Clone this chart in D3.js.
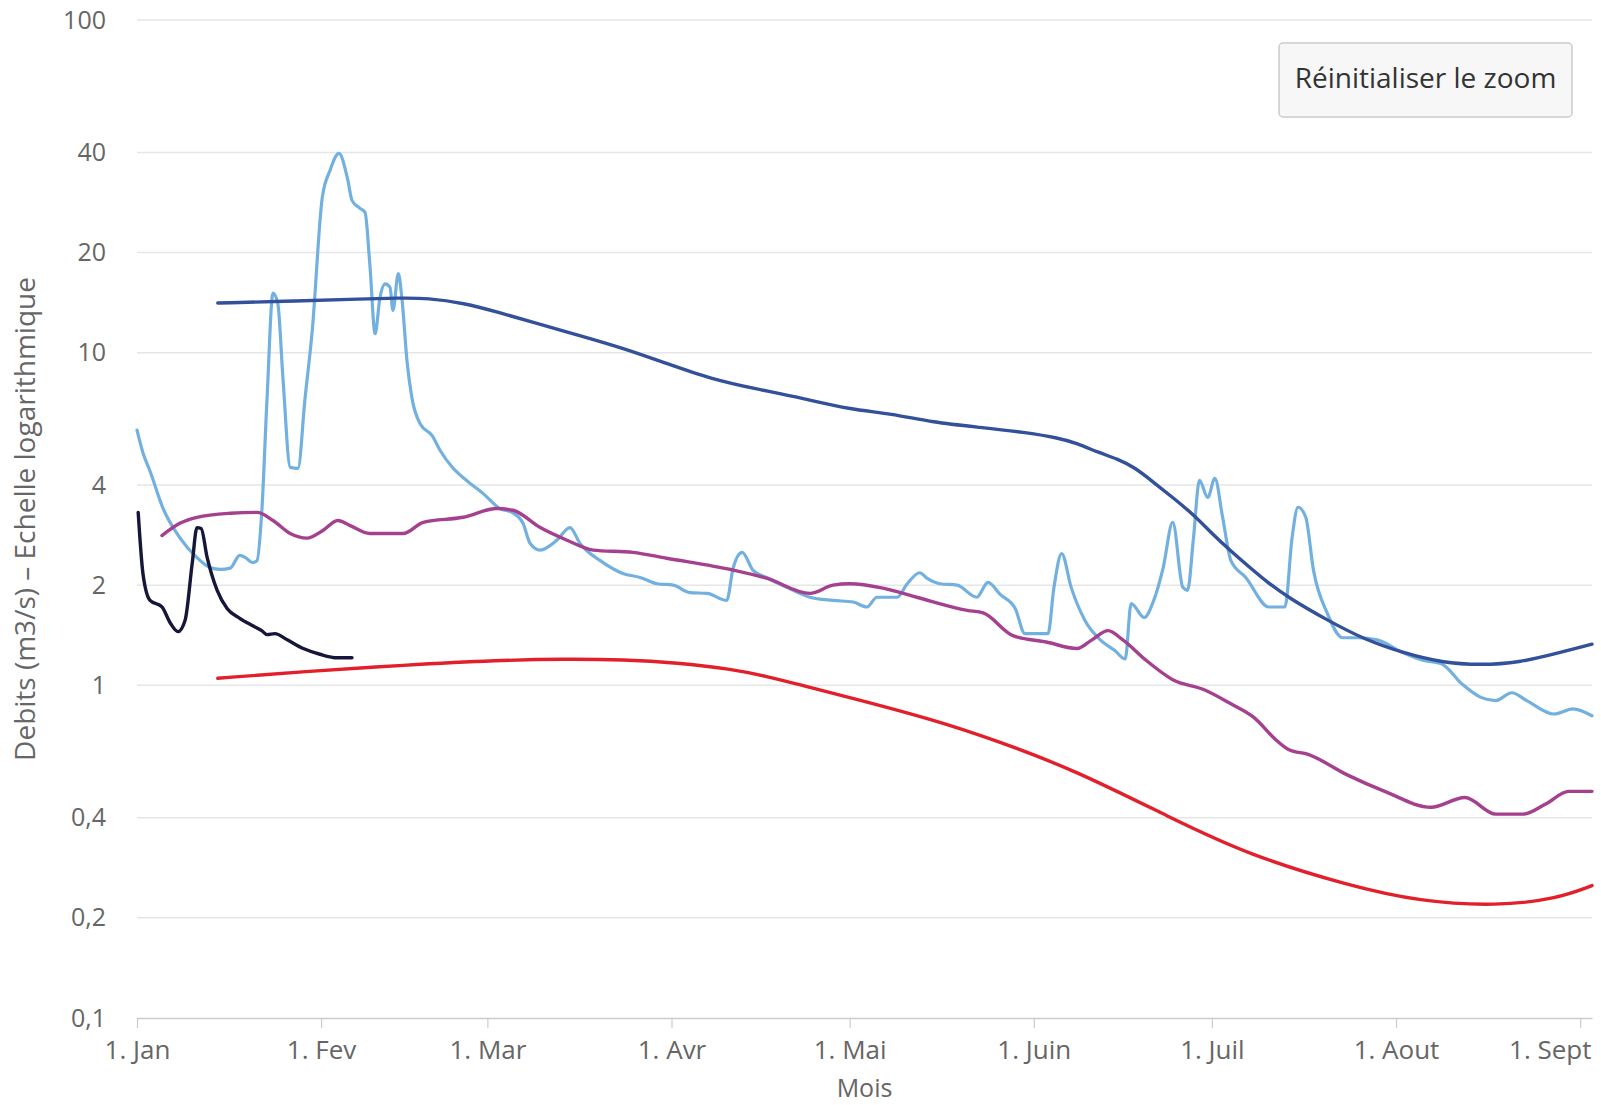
<!DOCTYPE html>
<html>
<head>
<meta charset="utf-8">
<script src="https://cdn.jsdelivr.net/npm/d3@7/dist/d3.min.js"></script>
<style>
  html, body { margin: 0; padding: 0; background: #ffffff; }
  svg { display: block; font-family: "Open Sans", "DejaVu Sans", sans-serif; }
</style>
</head>
<body>
<svg id="chart" width="1601" height="1105"></svg>
<script>
// ---------------- DATA (day offsets from 1 Jan, values in m3/s) ----------------
const monthLabels = ["1. Jan", "1. Fev", "1. Mar", "1. Avr", "1. Mai", "1. Juin", "1. Juil", "1. Aout", "1. Sept"];
const yTickValues = [0.1, 0.2, 0.4, 1, 2, 4, 10, 20, 40, 100];
const yTickLabels = ["0,1", "0,2", "0,4", "1", "2", "4", "10", "20", "40", "100"];

// light blue: observed daily flow
const obsDays = [0, 1, 2.2, 4.4, 7.2, 10.1, 12.3, 14, 15.7, 17.3, 18.3, 19.4, 20.2, 21, 21.9, 22.9, 23.7, 24.6, 25.8, 27.1,
  28.3, 29.5, 31.2, 32.5, 34, 35.5, 36.2, 37.5, 38.4, 39.2, 40.1, 40.9, 41.8, 42.6, 43.1, 44, 44.6, 45.5, 46.3, 47.7,
  49.7, 51, 53.2, 55.5, 58.3, 61.1, 63.3, 65, 66.2, 67.9, 70.7, 72.9, 74.6, 78, 81.8, 84.7, 87.6, 90.3, 93.1, 96,
  99.3, 100.4, 101.9, 103.7, 106, 109.4, 113.3, 117.2, 120.6, 122.9, 124.6, 128, 129.7, 131.8, 133, 135.2, 138.1, 141.4, 143.3, 145.3,
  147.9, 149.5, 153.4, 154.4, 155.7, 157.3, 159.6, 162.2, 164.7, 166.4, 167.4, 169.6, 171.2, 172.8, 174.4, 176.1, 176.9, 177.9, 178.9, 180.3,
  181.5, 182.8, 184.2, 186.7, 190.6, 193.3, 194.5, 195.5, 196.8, 198.1, 200.4, 203, 205.6, 208.8, 213.3, 216.5, 219.7, 223.1, 226.3, 228.8,
  231.5, 234, 238.6, 241.8, 245];
const obsValues = [5.85, 5.0, 4.4, 3.4, 2.78, 2.42, 2.26, 2.23, 2.25, 2.46, 2.42, 2.34, 2.37, 3.3, 7.3, 15.1, 14.1, 8.25, 4.52, 4.49,
  7.3, 11.6, 29.3, 35.3, 39.7, 33, 28.7, 27.2, 26.4, 18.5, 11.4, 14.6, 16.1, 15.7, 13.4, 17.3, 14.6, 9.3, 7.3, 6.1,
  5.63, 5.1, 4.5, 4.13, 3.77, 3.4, 3.3, 3.07, 2.67, 2.55, 2.73, 2.98, 2.67, 2.37, 2.17, 2.11, 2.02, 2.0, 1.9, 1.89,
  1.80, 2.26, 2.51, 2.22, 2.11, 1.97, 1.84, 1.80, 1.78, 1.72, 1.84, 1.84, 2.02, 2.18, 2.1, 2.02, 2.0, 1.84, 2.04, 1.88,
  1.70, 1.43, 1.43, 1.97, 2.49, 1.97, 1.57, 1.37, 1.27, 1.2, 1.76, 1.60, 1.80, 2.26, 3.09, 1.97, 1.93, 2.78, 4.13, 3.67,
  4.19, 3.2, 2.37, 2.11, 1.72, 1.72, 2.78, 3.43, 3.2, 2.22, 1.65, 1.39, 1.39, 1.37, 1.25, 1.19, 1.16, 1.01, 0.92, 0.90,
  0.95, 0.90, 0.82, 0.85, 0.81];

// dark blue
const highDays = [13.6, 27, 38, 44, 49, 55, 61, 67, 75, 82, 89, 97, 104, 112, 120, 127, 134, 142, 149.5, 155,
  158.3, 162, 165, 168, 171, 174.4, 178, 181, 184, 187.4, 190.5, 193.8, 200.4, 206.8, 213.3, 219.7, 226.3, 232.7, 239.3, 245];
const highValues = [14.1, 14.3, 14.5, 14.6, 14.6, 14.1, 13.2, 12.3, 11.2, 10.3, 9.3, 8.3, 7.8, 7.3, 6.75, 6.56, 6.17, 5.96, 5.76, 5.55,
  5.34, 5.0, 4.8, 4.52, 4.1, 3.67, 3.25, 2.86, 2.55, 2.26, 2.03, 1.84, 1.57, 1.37, 1.25, 1.17, 1.15, 1.17, 1.25, 1.33];

// magenta
const medDays = [4.2, 7.2, 10.1, 15.7, 20.2, 22.9, 25.8, 28.6, 31.3, 33.8, 35.9, 39.2, 44.8, 48.2, 54.9, 60.6, 63.3, 67.9, 72.4, 76.8,
  83.5, 89.2, 100.4, 106, 113.3, 117.2, 120, 125.6, 131.3, 139.8, 142.5, 147.5, 153.1, 158.3, 160.8, 163.5, 166, 169.9, 174.4, 179.7,
  184.2, 188.1, 192, 194, 197.2, 203.6, 210.1, 217.9, 223.6, 228.8, 233.4, 237.2, 241.1, 245];
const medValues = [2.82, 3.07, 3.2, 3.29, 3.31, 3.13, 2.86, 2.77, 2.92, 3.13, 3.02, 2.86, 2.86, 3.09, 3.2, 3.4, 3.36, 2.98, 2.73, 2.55,
  2.51, 2.41, 2.22, 2.10, 1.89, 2.0, 2.02, 1.96, 1.84, 1.68, 1.65, 1.41, 1.35, 1.29, 1.37, 1.46, 1.37, 1.19, 1.04, 0.97,
  0.88, 0.80, 0.68, 0.64, 0.62, 0.54, 0.48, 0.43, 0.46, 0.41, 0.41, 0.44, 0.48, 0.48];

// red
const lowDays = [13.6, 28, 45, 61, 72, 82, 91, 100, 106, 112, 120, 134, 145, 158, 174, 187, 204, 216, 229, 239, 245];
const lowValues = [1.05, 1.10, 1.15, 1.19, 1.20, 1.195, 1.17, 1.12, 1.065, 1.0, 0.92, 0.79, 0.68, 0.555, 0.40, 0.31, 0.25, 0.224, 0.217, 0.228, 0.25];

// black
const prevDays = [0.2, 1, 2.2, 4.2, 5.6, 6.9, 8.1, 9.3, 10.1, 10.8, 11.8, 13.5, 15.2, 17.3, 19.5, 21, 21.9, 23.2, 25.3, 28, 30.8, 33.7, 36.2];
const prevValues = [3.31, 2.17, 1.80, 1.72, 1.54, 1.45, 1.57, 2.33, 2.98, 2.96, 2.43, 1.93, 1.70, 1.59, 1.51, 1.46, 1.42, 1.43, 1.37, 1.29, 1.24, 1.21, 1.21];

// ---------------- CHART ----------------
const base = Date.UTC(2015, 0, 1);
const toDate = d => new Date(base + d * 86400000);
const svg = d3.select("#chart");
const plot = { left: 137, right: 1592, top: 20, bottom: 1018 };

const x = d3.scaleUtc().domain([toDate(0), toDate(245)]).range([plot.left, plot.right]);
const y = d3.scaleLog().domain([0.1, 100]).range([plot.bottom, plot.top]);

// gridlines
svg.append("g").selectAll("line").data(yTickValues.slice(1)).join("line")
  .attr("x1", plot.left).attr("x2", plot.right)
  .attr("y1", d => y(d)).attr("y2", d => y(d))
  .attr("stroke", "#e6e6e6").attr("stroke-width", 1.5);

// x axis
const monthTicks = d3.utcMonth.range(toDate(0), toDate(245));
const xAxis = d3.axisBottom(x).tickValues(monthTicks)
  .tickFormat((d, i) => monthLabels[i]).tickSize(10).tickSizeOuter(0);
const gx = svg.append("g").attr("transform", `translate(0,${plot.bottom})`).call(xAxis);
gx.select(".domain").attr("stroke", "#cccccc").attr("stroke-width", 1.5);
gx.selectAll(".tick line").attr("stroke", "#cccccc").attr("stroke-width", 1.2);
gx.selectAll(".tick text").attr("fill", "#666666").attr("font-size", 26)
  .attr("font-family", "'Open Sans', sans-serif").attr("y", 13).attr("dy", 28);
// keep the last label inside the chart, as the original does
const lastTick = monthTicks[monthTicks.length - 1];
gx.selectAll(".tick text").filter(d => +d === +lastTick)
  .attr("text-anchor", "end").attr("x", plot.right - 1 - x(lastTick));

// y axis labels
const yAxis = d3.axisLeft(y).tickValues(yTickValues)
  .tickFormat((d, i) => yTickLabels[i]).tickSize(0);
const gy = svg.append("g").attr("transform", `translate(${plot.left - 31},0)`).call(yAxis);
gy.select(".domain").remove();
gy.selectAll(".tick text").attr("fill", "#666666").attr("font-size", 25)
  .attr("font-family", "'Open Sans', sans-serif").attr("x", 0);

// series
const makeLine = (days, vals, curve) => d3.line()
  .x((d, i) => x(toDate(days[i])))
  .y((d, i) => y(vals[i]))
  .curve(curve)(vals);

const series = [
  { days: obsDays, vals: obsValues, color: "#72b0e0", w: 3.2, curve: d3.curveMonotoneX },
  { days: highDays, vals: highValues, color: "#33509a", w: 3.4, curve: d3.curveBasis },
  { days: medDays, vals: medValues, color: "#a5408f", w: 3.4, curve: d3.curveMonotoneX },
  { days: lowDays, vals: lowValues, color: "#e2202b", w: 3.4, curve: d3.curveBasis },
  { days: prevDays, vals: prevValues, color: "#16163a", w: 3.4, curve: d3.curveMonotoneX }
];
svg.append("g").selectAll("path").data(series).join("path")
  .attr("d", s => makeLine(s.days, s.vals, s.curve))
  .attr("fill", "none")
  .attr("stroke", s => s.color)
  .attr("stroke-width", s => s.w)
  .attr("stroke-linejoin", "round")
  .attr("stroke-linecap", "round");

// axis titles
svg.append("text")
  .attr("transform", `translate(35,${(plot.top + plot.bottom) / 2}) rotate(-90)`)
  .attr("text-anchor", "middle")
  .attr("fill", "#666666").attr("font-size", 28)
  .text("Debits (m3/s) – Echelle logarithmique");

svg.append("text")
  .attr("x", (plot.left + plot.right) / 2).attr("y", 1097)
  .attr("text-anchor", "middle")
  .attr("fill", "#666666").attr("font-size", 25)
  .text("Mois");

// reset zoom button
const btn = svg.append("g");
btn.append("rect").attr("x", 1279).attr("y", 43).attr("width", 293).attr("height", 74).attr("rx", 4)
  .attr("fill", "#f7f7f7").attr("stroke", "#cccccc").attr("stroke-width", 1.5);
btn.append("text").attr("x", 1425.5).attr("y", 88).attr("text-anchor", "middle")
  .attr("fill", "#333333").attr("font-size", 28)
  .text("Réinitialiser le zoom");
</script>
</body>
</html>
